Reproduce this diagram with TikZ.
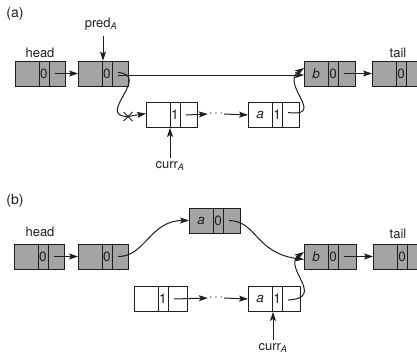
\documentclass[tikz,border=0pt]{standalone}
\usepackage{fontspec}
\setmainfont{TeX Gyre Heros}
\usetikzlibrary{arrows.meta}
\definecolor{boxgrey}{HTML}{A4A4A4}
\definecolor{ink}{HTML}{1E1E1E}
\tikzset{
  cell/.style={draw=ink, line width=0.8pt, minimum height=25pt, inner sep=0pt, anchor=west},
  shaded/.style={fill=boxgrey},
  plain/.style={fill=white},
  lbl/.style={font=\fontsize{13}{15}\selectfont, text=ink, inner sep=0pt},
  ptr/.style={draw=ink, line width=1pt, -{Stealth[length=9pt,width=6pt,inset=2pt]}},
  wire/.style={draw=ink, line width=1pt},
}
\newcommand\listbox[7]{%
  \node[cell,#5,minimum width=#4pt] (#1) at (#2,#3) {};
  \draw[draw=ink,line width=0.8pt] ([xshift=24pt]#1.north west) -- ([xshift=24pt]#1.south west)
    ([xshift=34pt]#1.north west) -- ([xshift=34pt]#1.south west);
  \node[lbl,font=\fontsize{13.5}{15}\selectfont\itshape] (#1-k) at ([xshift=12pt]#1.west) {#6};
  \node[lbl,font=\fontsize{13.5}{15}\selectfont] (#1-m) at ([xshift=29pt]#1.west) {#7};
  \coordinate (#1-n) at ([xshift=40pt]#1.west);
}
\newcommand\subA{\textsubscript{\textit{A}}}
\begin{document}
\begin{tikzpicture}[x=1pt,y=-1pt]
\useasboundingbox (0,0) rectangle (417,356);
% ---------------- (a) ----------------
\node[lbl,font=\fontsize{14}{16}\selectfont] (la) at (15,14) {(a)};
\node[lbl] (headA) at (40,53) {head};
\node[lbl] (tailA) at (398,53) {tail};
\node[lbl] (predA) at (101,24) {pred\subA};
\listbox{h1}{15}{73.5}{50}{shaded}{}{0}
\listbox{p1}{78}{73.5}{50}{shaded}{}{0}
\listbox{b1}{304}{73.5}{51}{shaded}{b}{0}
\listbox{t1}{372}{73.5}{50}{shaded}{}{0}
\listbox{c1}{146}{115}{51}{plain}{}{1}
\listbox{a1}{248}{115}{51}{plain}{a}{1}
\node[lbl] (currA) at (170,166) {curr\subA};
\node[lbl,inner sep=1pt] (d1) at (216,114) {$\cdots$};
\coordinate (xa) at (128,116.5);
\draw[ptr] (h1-n) -- (p1.west);
\draw[ptr] ([yshift=-1.5pt]p1-n) -- ([yshift=-1.5pt]b1.west);
\draw[ptr] ([yshift=1pt]p1-n) .. controls (152,75) and (95,116.5) .. (xa) -- ([yshift=1.5pt]c1.west);
\draw[wire] ([shift={(-4.5,-4.5)}]xa) -- ([shift={(4.5,4.5)}]xa)
            ([shift={(-4.5,4.5)}]xa) -- ([shift={(4.5,-4.5)}]xa);
\draw[ptr] (c1-n) -- (d1.west);
\draw[ptr] (d1.east) -- (a1.west);
\draw[ptr] ([yshift=2.5pt]a1-n) .. controls (327,117.5) and (280,84) .. ([yshift=5.5pt]b1.west);
\draw[ptr] (b1-n) -- (t1.west);
\draw[ptr] (predA.south -| p1.north west) ++(25,6) coordinate (pa) -- (pa |- p1.north);
\draw[ptr] (currA.north) ++(0,-3) -- ([xshift=24pt]c1.south west);
% ---------------- (b) ----------------
\node[lbl,font=\fontsize{14}{16}\selectfont] (lb) at (15,201) {(b)};
\node[lbl] (headB) at (40,232) {head};
\node[lbl] (tailB) at (398,234) {tail};
\listbox{h2}{14}{256.5}{50}{shaded}{}{0}
\listbox{p2}{78}{256.5}{50}{shaded}{}{0}
\listbox{n2}{189}{220.5}{51}{shaded}{a}{0}
\listbox{b2}{304}{256.5}{52}{shaded}{b}{0}
\listbox{t2}{373}{256.5}{50}{shaded}{}{0}
\listbox{c2}{134}{299}{53}{plain}{}{1}
\listbox{a2}{248}{299}{52}{plain}{a}{1}
\node[lbl] (currB) at (273,348) {curr\subA};
\node[lbl,inner sep=1pt] (d2) at (216,298) {$\cdots$};
\draw[ptr] (h2-n) -- (p2.west);
\draw[ptr] (p2-n) .. controls (145,257) and (150,220.5) .. (n2.west);
\draw[ptr] (n2-n) .. controls (257,221) and (255,253) .. ([yshift=-3pt]b2.west);
\draw[ptr] (c2-n) -- (d2.west);
\draw[ptr] (d2.east) -- (a2.west);
\draw[ptr] ([yshift=-1pt]a2-n) .. controls (327,298) and (282,267) .. ([yshift=4.5pt]b2.west);
\draw[ptr] (b2-n) -- (t2.west);
\draw[ptr] (currB.north) ++(0,-3) -- ([xshift=25pt]a2.south west);
\end{tikzpicture}
\end{document}
